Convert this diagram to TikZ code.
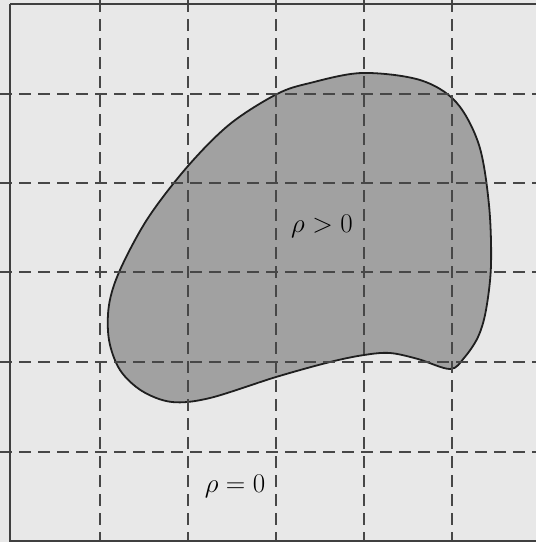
\documentclass[tikz,border=0pt]{standalone}
\usepackage{fix-cm}
\begin{document}
\begin{tikzpicture}[x=1pt,y=-1pt,
  gridline/.style={dash pattern=on 12pt off 7pt,line width=1.3pt,draw=black!72},
  blob/.style={fill=black!37,draw=black!88,line width=1.8pt},
  lbl/.style={font=\fontsize{27}{32}\selectfont,inner sep=0pt}]
\definecolor{bg}{gray}{0.91}
\useasboundingbox (0,0) rectangle (536,542);
\clip (0,0) rectangle (536,542);
\fill[bg] (0,0) rectangle (536,542);
\draw[blob] plot[smooth cycle,tension=0.55] coordinates {
  (362,73) (310,83) (277,94) (230,124) (188,166) (148,218) (120,270)
  (109,305) (109,340) (120,370) (142,391) (172,402) (210,398) (276,377)
  (330,362) (364,355) (390,353) (418,359) (450,369) (464,358) (478,337)
  (486,310) (491,265) (489,205) (479,145) (456,102) (420,80)};
\foreach \x in {100,188,276,364,452}
  \draw[gridline] (\x,0) -- (\x,542);
\foreach \y in {94,183,272,362,452}
  \draw[gridline] (0,\y) -- (536,\y);
\draw[line width=2pt,draw=black!75] (10,4) -- (560,4) (10,4) -- (10,541) -- (560,541);
\node[lbl] (in) at (322,226) {$\rho>0$};
\node[lbl] (out) at (235,486) {$\rho=0$};
\end{tikzpicture}
\end{document}
